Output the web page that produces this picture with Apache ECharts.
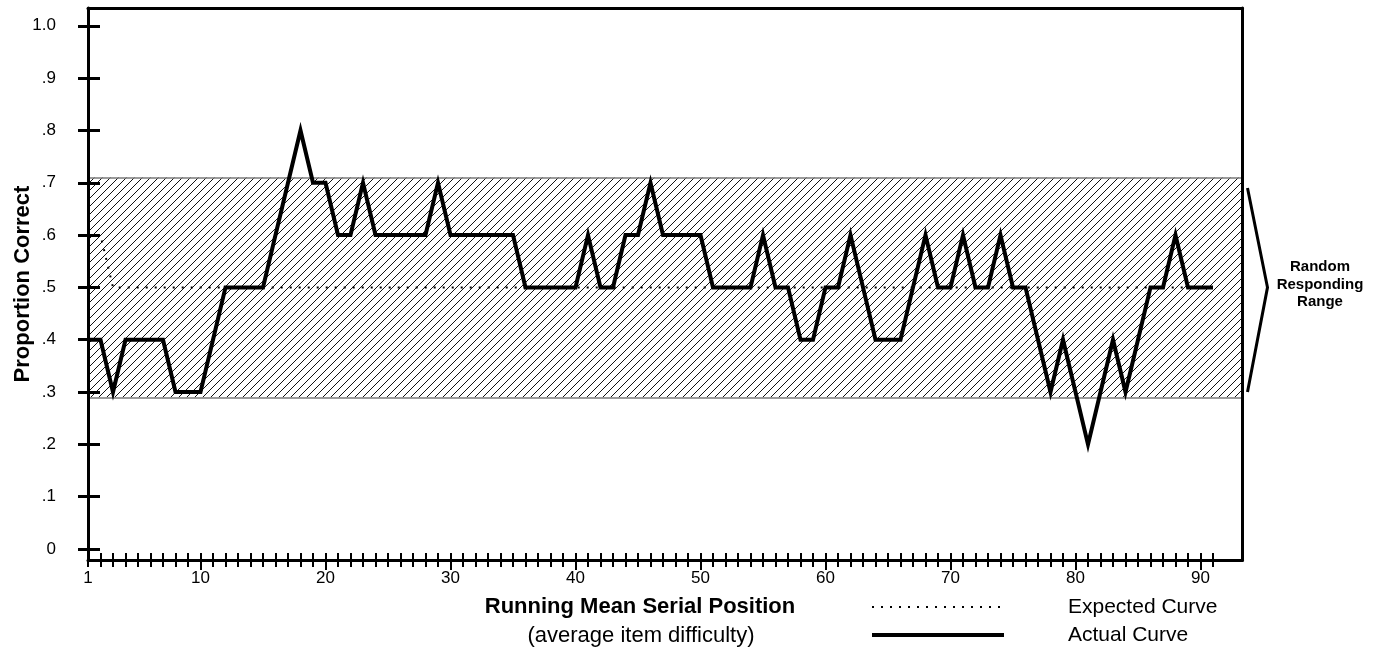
<!DOCTYPE html>
<html><head><meta charset="utf-8">
<script src="https://cdn.jsdelivr.net/npm/echarts@6/dist/echarts.min.js"></script>
<style>html,body{margin:0;padding:0;background:#fff}#c{width:1382px;height:656px}</style>
</head><body><div id="c"></div><script>
// ---- data ----
const positions = [1,2,3,4,5,6,7,8,9,10,11,12,13,14,15,16,17,18,19,20,21,22,23,24,25,26,27,28,29,30,
  31,32,33,34,35,36,37,38,39,40,41,42,43,44,45,46,47,48,49,50,51,52,53,54,55,56,57,58,59,60,
  61,62,63,64,65,66,67,68,69,70,71,72,73,74,75,76,77,78,79,80,81,82,83,84,85,86,87,88,89,90,91];
const actual = [0.4,0.4,0.3,0.4,0.4,0.4,0.4,0.3,0.3,0.3,0.4,0.5,0.5,0.5,0.5,0.6,0.7,0.8,0.7,0.7,
  0.6,0.6,0.7,0.6,0.6,0.6,0.6,0.6,0.7,0.6,0.6,0.6,0.6,0.6,0.6,0.5,0.5,0.5,0.5,0.5,
  0.6,0.5,0.5,0.6,0.6,0.7,0.6,0.6,0.6,0.6,0.5,0.5,0.5,0.5,0.6,0.5,0.5,0.4,0.4,0.5,
  0.5,0.6,0.5,0.4,0.4,0.4,0.5,0.6,0.5,0.5,0.6,0.5,0.5,0.6,0.5,0.5,0.4,0.3,0.4,0.3,
  0.2,0.3,0.4,0.3,0.4,0.5,0.5,0.6,0.5,0.5,0.5];
const expected = [0.6,0.6,0.5,0.5,0.5,0.5,0.5,0.5,0.5,0.5,0.5,0.5,0.5,0.5,0.5,0.5,0.5,0.5,0.5,0.5,
  0.5,0.5,0.5,0.5,0.5,0.5,0.5,0.5,0.5,0.5,0.5,0.5,0.5,0.5,0.5,0.5,0.5,0.5,0.5,0.5,
  0.5,0.5,0.5,0.5,0.5,0.5,0.5,0.5,0.5,0.5,0.5,0.5,0.5,0.5,0.5,0.5,0.5,0.5,0.5,0.5,
  0.5,0.5,0.5,0.5,0.5,0.5,0.5,0.5,0.5,0.5,0.5,0.5,0.5,0.5,0.5,0.5,0.5,0.5,0.5,0.5,
  0.5,0.5,0.5,0.5,0.5,0.5,0.5,0.5,0.5,0.5,0.5];
const xLabelValues = [1,10,20,30,40,50,60,70,80,90];
const xMajorTicks = [10,20,30,40,50,60,70,80,90];
const yTickValues = [0,0.1,0.2,0.3,0.4,0.5,0.6,0.7,0.8,0.9,1.0];
const yTickLabels = ['0','.1','.2','.3','.4','.5','.6','.7','.8','.9','1.0'];
const randomBand = [0.29, 0.71];
const bracketValues = [0.69, 0.5, 0.3];
const seriesNames = ['Expected Curve', 'Actual Curve'];
const yTitle = 'Proportion Correct';
const xTitle = 'Running Mean Serial Position';
const xSubtitle = '(average item difficulty)';
const bandLabel = 'Random\nResponding\nRange';

// ---- styling ----
const FONT = '"Liberation Sans", Arial, Helvetica, sans-serif';
const X_MIN = 1, X_MAX = 93.36, Y_MIN = -0.021, Y_MAX = 1.034;

const hatch = document.createElement('canvas');
hatch.width = 8; hatch.height = 8;
const g = hatch.getContext('2d');
g.strokeStyle = '#111'; g.lineWidth = 1;
g.beginPath();
g.moveTo(0, 8); g.lineTo(8, 0);
g.moveTo(-4, 4); g.lineTo(4, -4);
g.moveTo(4, 12); g.lineTo(12, 4);
g.stroke();

const chart = echarts.init(document.getElementById('c'), null, {renderer: 'canvas'});

const baseX = {type: 'value', min: X_MIN, max: X_MAX, position: 'bottom', z: 10,
  splitLine: {show: false}, axisLabel: {show: false}, axisTick: {show: false},
  axisLine: {show: false, onZero: false}};
const baseY = {type: 'value', min: Y_MIN, max: Y_MAX, position: 'left', z: 10,
  splitLine: {show: false}, axisLabel: {show: false}, axisTick: {show: false},
  axisLine: {show: false, onZero: false}};

const option = {
  backgroundColor: '#fff',
  animation: false,
  grid: {left: 88, right: 139.5, top: 8, bottom: 96, show: false, containLabel: false, outerBoundsMode: 'none'},
  xAxis: [
    Object.assign({}, baseX, {
      axisLine: {show: true, onZero: false, lineStyle: {color: '#000', width: 3}},
      axisTick: {show: true, inside: false, length: 7, customValues: positions, lineStyle: {color: '#000', width: 2}},
      axisLabel: {show: true, customValues: xLabelValues, margin: 10, color: '#000', fontFamily: FONT, fontSize: 17,
        formatter: v => String(Math.round(v))}
    }),
    Object.assign({}, baseX, {
      axisTick: {show: true, inside: true, length: 7, customValues: positions, lineStyle: {color: '#000', width: 2}}
    }),
    Object.assign({}, baseX, {
      axisTick: {show: true, inside: false, length: 10, customValues: xMajorTicks, lineStyle: {color: '#000', width: 2}}
    }),
    Object.assign({}, baseX, {position: 'top',
      axisLine: {show: true, onZero: false, lineStyle: {color: '#000', width: 3}}
    })
  ],
  yAxis: [
    Object.assign({}, baseY, {
      name: yTitle, nameLocation: 'middle', nameRotate: 90, nameGap: 54, nameMoveOverlap: false,
      nameTextStyle: {fontFamily: FONT, fontSize: 22, fontWeight: 'bold', color: '#000'},
      axisLine: {show: true, onZero: false, lineStyle: {color: '#000', width: 3}},
      axisTick: {show: true, inside: false, length: 10, customValues: yTickValues, lineStyle: {color: '#000', width: 3}},
      axisLabel: {show: true, customValues: yTickValues, margin: 32, color: '#000', fontFamily: FONT, fontSize: 17,
        formatter: v => {
          let best = 0;
          yTickValues.forEach((t, i) => { if (Math.abs(t - v) < Math.abs(yTickValues[best] - v)) best = i; });
          return yTickLabels[best];
        }}
    }),
    Object.assign({}, baseY, {
      axisTick: {show: true, inside: true, length: 12, customValues: yTickValues, lineStyle: {color: '#000', width: 3}}
    }),
    Object.assign({}, baseY, {position: 'right',
      axisLine: {show: true, onZero: false, lineStyle: {color: '#000', width: 3}}
    })
  ],
  series: [
    {
      name: 'band', type: 'line', data: [], z: 1, silent: true,
      markArea: {silent: true, itemStyle: {color: {image: hatch, repeat: 'repeat'}, opacity: 1, borderWidth: 0},
        data: [[{yAxis: randomBand[0]}, {yAxis: randomBand[1]}]]},
      markLine: {silent: true, symbol: 'none', label: {show: false},
        lineStyle: {color: '#7a7a7a', width: 1.5, type: 'solid'},
        data: [{yAxis: randomBand[0]}, {yAxis: randomBand[1]}]}
    },
    {
      name: seriesNames[0], type: 'line', z: 3, symbol: 'none',
      data: positions.map((p, i) => [p, expected[i]]),
      lineStyle: {color: '#000', width: 2, type: [2, 7]}, itemStyle: {color: '#000'}
    },
    {
      name: seriesNames[1], type: 'line', z: 5, symbol: 'none',
      data: positions.map((p, i) => [p, actual[i]]),
      lineStyle: {color: '#000', width: 4, join: 'miter', miterLimit: 10}, itemStyle: {color: '#000'}
    }
  ]
};
chart.setOption(option);

const px = (x, y) => chart.convertToPixel({gridIndex: 0}, [x, y]);
const right = px(X_MAX, 0)[0];
const bTop = px(X_MAX, bracketValues[0]);
const bTip = px(X_MAX, bracketValues[1]);
const bBot = px(X_MAX, bracketValues[2]);
const legendRows = [607, 635];
chart.setOption({
  graphic: [
    {type: 'polyline', z: 20, shape: {points: [[right + 5, bTop[1]], [right + 25, bTip[1]], [right + 5, bBot[1]]]},
      style: {stroke: '#000', lineWidth: 3, fill: null}},
    {type: 'text', z: 20, x: 1320, y: bTip[1] - 3,
      style: {text: bandLabel, fontFamily: FONT, fontSize: 15, fontWeight: 'bold', fill: '#000',
        align: 'center', verticalAlign: 'middle', lineHeight: 17.5}},
    {type: 'text', z: 20, x: 640, y: 607,
      style: {text: xTitle, fontFamily: FONT, fontSize: 22, fontWeight: 'bold', fill: '#000', align: 'center', verticalAlign: 'middle'}},
    {type: 'text', z: 20, x: 641, y: 636,
      style: {text: xSubtitle, fontFamily: FONT, fontSize: 22, fill: '#000', align: 'center', verticalAlign: 'middle'}},
    // legend
    {type: 'line', z: 20, shape: {x1: 872, y1: legendRows[0], x2: 1004, y2: legendRows[0]},
      style: {stroke: '#000', lineWidth: 2, lineDash: [2, 7]}},
    {type: 'text', z: 20, x: 1068, y: legendRows[0],
      style: {text: seriesNames[0], fontFamily: FONT, fontSize: 21, fill: '#000', align: 'left', verticalAlign: 'middle'}},
    {type: 'line', z: 20, shape: {x1: 872, y1: legendRows[1], x2: 1004, y2: legendRows[1]},
      style: {stroke: '#000', lineWidth: 4}},
    {type: 'text', z: 20, x: 1068, y: legendRows[1],
      style: {text: seriesNames[1], fontFamily: FONT, fontSize: 21, fill: '#000', align: 'left', verticalAlign: 'middle'}}
  ]
});
</script></body></html>
